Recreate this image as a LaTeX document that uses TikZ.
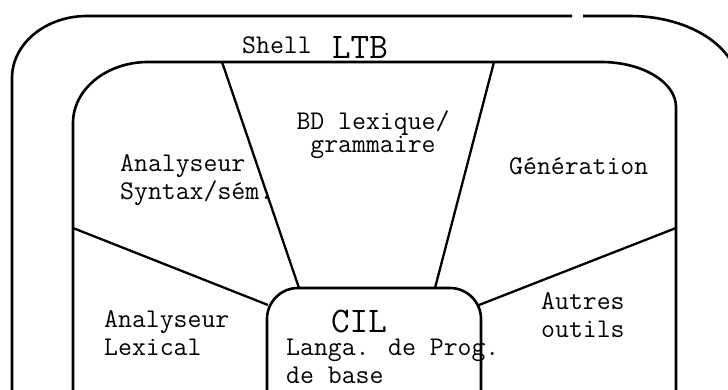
\documentclass[tikz,border=0pt]{standalone}
\usepackage{fontspec}
\usetikzlibrary{positioning}

\begin{document}
\begin{tikzpicture}[
    x=1pt, y=-1pt,
    every node/.style={font=\ttfamily\fontsize{27}{28}\selectfont, inner sep=0pt},
    big/.style={font=\ttfamily\fontsize{36}{40}\selectfont},
    txt/.style={anchor=base west, align=left},
    wall/.style={line width=2.6pt, line join=round},
    spoke/.style={line width=2.3pt}
]
\clip (0,0) rectangle (728,390);
% coque exterieure (Shell)
\draw[wall] (572,16) -- (87,16) arc[start angle=90, end angle=180, x radius=75pt, y radius=62pt] -- (12,400);
\draw[wall] (583,16) -- (630,16) arc[start angle=90, end angle=0, x radius=108pt, y radius=70pt] -- (738,400);
% coque interieure (LTB)
\draw[wall] (73,400) -- (73,123) arc[start angle=180, end angle=90, x radius=75pt, y radius=61pt]
    -- (601,62) arc[start angle=90, end angle=0, x radius=75pt, y radius=45pt] -- (676,400);
% noyau CIL
\draw[wall] (267,400) -- (267,319) arc[start angle=180, end angle=90, radius=31pt]
    -- (450,288) arc[start angle=90, end angle=0, radius=31pt] -- (481,400);
% rayons
\coordinate (synA) at (222,62);
\coordinate (synB) at (299,288);
\coordinate (genA) at (494,62);
\coordinate (genB) at (435,288);
\coordinate (lexA) at (73,228);
\coordinate (lexB) at (268,305);
\coordinate (autA) at (676,228);
\coordinate (autB) at (479,305);
\draw[spoke] (synA) -- (synB);
\draw[spoke] (genA) -- (genB);
\draw[spoke] (lexA) -- (lexB);
\draw[spoke] (autA) -- (autB);
% textes (ancre = ligne de base de la derniere ligne)
\node[txt] (shell) at (242,54) {Shell};
\node[txt, big] (ltb) at (332,59) {LTB};
\node[anchor=base, align=center, font=\ttfamily\fontsize{27}{23}\selectfont] (bd) at (373,153) {BD lexique/\\grammaire};
\node[txt] (syntax) at (120,200) {Analyseur\\Syntax/sém.};
\node[txt] (gen) at (509,175) {Génération};
\node[txt] (lexical) at (104,355) {Analyseur\\Lexical};
\node[txt, big] (cil) at (331,332) {CIL};
\node[txt] (langa) at (286,383) {Langa. de Prog.\\de base};
\node[txt] (autres) at (541,337) {Autres\\outils};
\end{tikzpicture}
\end{document}
